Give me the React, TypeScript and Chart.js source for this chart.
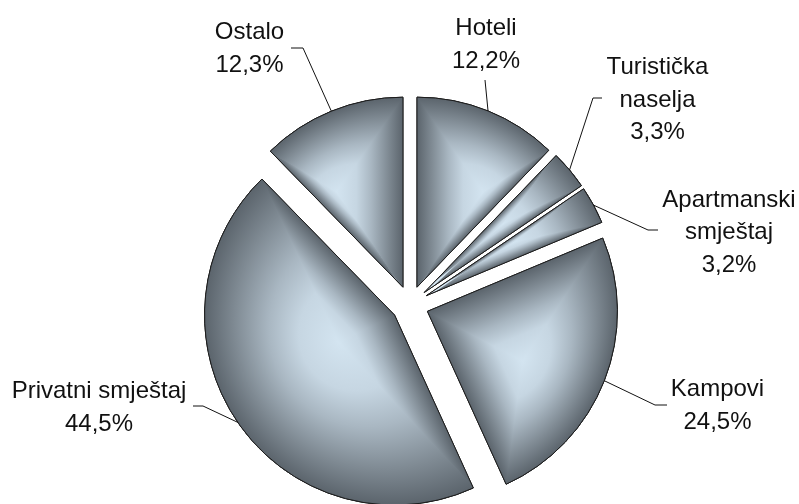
import React, { useEffect, useRef } from 'react';
import { Chart, registerables } from 'chart.js';

Chart.register(...registerables);

// ---- data ----
const CATEGORIES = ['Hoteli', 'Turistička naselja', 'Apartmanski smještaj', 'Kampovi', 'Privatni smještaj', 'Ostalo'];
const SHARES = [12.2, 3.3, 3.2, 24.5, 44.5, 12.3];

// ---- style / layout ----
const EXPLODE = 18.7;
const BORDER = '#1c1c1c';
const FONT = '24px "Liberation Sans", Arial, sans-serif';
const LINE_PITCH = 32.5;
const GRAD_STOPS: [number, string][] = [
  [0, '#d3e4f0'],
  [0.3, '#c6d6e2'],
  [0.52, '#a9b7c2'],
  [0.78, '#7f8a93'],
  [1, '#5b646c'],
];
const LABEL_LAYOUT = [
  { x: 486, y: 35, wrap: false, elbow: [485, 80], end: [485, 80] },
  { x: 657.5, y: 74, wrap: true, elbow: [593, 98], end: [602, 98] },
  { x: 729, y: 206.5, wrap: true, elbow: [648, 230], end: [658, 230] },
  { x: 717.5, y: 396, wrap: false, elbow: [655, 405], end: [667, 405] },
  { x: 99, y: 398, wrap: false, elbow: [203, 406], end: [193, 406] },
  { x: 249.5, y: 39, wrap: false, elbow: [303, 48], end: [291, 48] },
];

const fmt = (v: number) => v.toFixed(1).replace('.', ',') + '%';

const explodePlugin = {
  id: 'explodeSlices',
  afterDatasetsUpdate(chart: any) {
    const meta = chart.getDatasetMeta(0);
    meta.data.forEach((arc: any) => {
      const mid = (arc.startAngle + arc.endAngle) / 2;
      arc.x += Math.cos(mid) * EXPLODE;
      arc.y += Math.sin(mid) * EXPLODE;
    });
  },
};

const shadePlugin = {
  id: 'pathGradient',
  afterDatasetsDraw(chart: any) {
    const ctx: CanvasRenderingContext2D = chart.ctx;
    const meta = chart.getDatasetMeta(0);
    meta.data.forEach((arc: any) => {
      const { x, y, startAngle, endAngle, outerRadius } = arc;
      const pts: number[][] = [[x, y]];
      const n = Math.max(4, Math.ceil((endAngle - startAngle) / (Math.PI / 180)));
      for (let k = 0; k <= n; k++) {
        const a = startAngle + ((endAngle - startAngle) * k) / n;
        pts.push([x + Math.cos(a) * outerRadius, y + Math.sin(a) * outerRadius]);
      }
      let minX = Infinity, maxX = -Infinity, minY = Infinity, maxY = -Infinity;
      pts.forEach(([px, py]) => {
        minX = Math.min(minX, px); maxX = Math.max(maxX, px);
        minY = Math.min(minY, py); maxY = Math.max(maxY, py);
      });
      const cx = (minX + maxX) / 2;
      const cy = (minY + maxY) / 2;

      ctx.save();
      ctx.beginPath();
      ctx.moveTo(x, y);
      ctx.arc(x, y, outerRadius, startAngle, endAngle);
      ctx.closePath();
      ctx.clip();
      ctx.fillStyle = GRAD_STOPS[0][1];
      ctx.fill();
      ctx.globalCompositeOperation = 'darken';
      for (let i = 0; i < pts.length; i++) {
        const p1 = pts[i];
        const p2 = pts[(i + 1) % pts.length];
        const ex = p2[0] - p1[0];
        const ey = p2[1] - p1[1];
        const len2 = ex * ex + ey * ey;
        if (len2 < 1e-6) continue;
        const t = ((cx - p1[0]) * ex + (cy - p1[1]) * ey) / len2;
        const fx = p1[0] + t * ex;
        const fy = p1[1] + t * ey;
        const dist = Math.hypot(fx - cx, fy - cy);
        if (dist < 1e-3) continue;
        const g = ctx.createLinearGradient(cx, cy, fx, fy);
        GRAD_STOPS.forEach(([s, c]) => g.addColorStop(s, c));
        const L = Math.sqrt(len2);
        const ux = ex / L, uy = ey / L;
        const nx = (fx - cx) / dist, ny = (fy - cy) / dist;
        const ext = 6;
        const q1 = [p1[0] - ux * ext + nx * 3, p1[1] - uy * ext + ny * 3];
        const q2 = [p2[0] + ux * ext + nx * 3, p2[1] + uy * ext + ny * 3];
        ctx.fillStyle = g;
        ctx.beginPath();
        ctx.moveTo(cx - nx * 3, cy - ny * 3);
        ctx.lineTo(q1[0], q1[1]);
        ctx.lineTo(q2[0], q2[1]);
        ctx.closePath();
        ctx.fill();
      }
      ctx.restore();

      ctx.save();
      ctx.beginPath();
      ctx.moveTo(x, y);
      ctx.arc(x, y, outerRadius, startAngle, endAngle);
      ctx.closePath();
      ctx.lineWidth = 1;
      ctx.lineJoin = 'miter';
      ctx.strokeStyle = BORDER;
      ctx.stroke();
      ctx.restore();
    });
  },
};

const labelPlugin = {
  id: 'outsideLabels',
  afterDraw(chart: any) {
    const ctx: CanvasRenderingContext2D = chart.ctx;
    const meta = chart.getDatasetMeta(0);
    const labels: string[] = chart.data.labels;
    const values: number[] = chart.data.datasets[0].data;
    ctx.save();
    meta.data.forEach((arc: any, i: number) => {
      const lay = LABEL_LAYOUT[i];
      const mid = (arc.startAngle + arc.endAngle) / 2;
      const ax = arc.x + Math.cos(mid) * arc.outerRadius;
      const ay = arc.y + Math.sin(mid) * arc.outerRadius;
      ctx.beginPath();
      ctx.moveTo(lay.end[0], lay.end[1]);
      ctx.lineTo(lay.elbow[0], lay.elbow[1]);
      ctx.lineTo(ax, ay);
      ctx.lineWidth = 1;
      ctx.strokeStyle = '#111111';
      ctx.stroke();

      const lines = lay.wrap ? labels[i].split(' ') : [labels[i]];
      lines.push(fmt(values[i]));
      ctx.font = FONT;
      ctx.fillStyle = '#111111';
      ctx.textAlign = 'center';
      ctx.textBaseline = 'alphabetic';
      lines.forEach((ln, k) => ctx.fillText(ln, lay.x, lay.y + k * LINE_PITCH));
    });
    ctx.restore();
  },
};

export default function App() {
  const ref = useRef<HTMLCanvasElement>(null);
  useEffect(() => {
    const chart = new Chart(ref.current!, {
      type: 'pie',
      data: {
        labels: CATEGORIES,
        datasets: [
          {
            data: SHARES,
            backgroundColor: '#a3b1bc',
            borderColor: BORDER,
            borderWidth: 1,
            hoverBorderWidth: 1,
            offset: 0,
            hoverOffset: 0,
          } as any,
        ],
      },
      options: {
        responsive: false,
        animation: false,
        events: [],
        layout: { padding: { top: 114, bottom: 9, left: 21, right: 0 } },
        plugins: { legend: { display: false }, tooltip: { enabled: false } },
      } as any,
      plugins: [explodePlugin, shadePlugin, labelPlugin],
    });
    return () => chart.destroy();
  }, []);
  return (
    <div style={{ position: 'fixed', left: 0, top: 0, width: 799, height: 504, background: '#ffffff', overflow: 'hidden' }}>
      <canvas ref={ref} width={799} height={504} style={{ display: 'block' }} />
    </div>
  );
}
